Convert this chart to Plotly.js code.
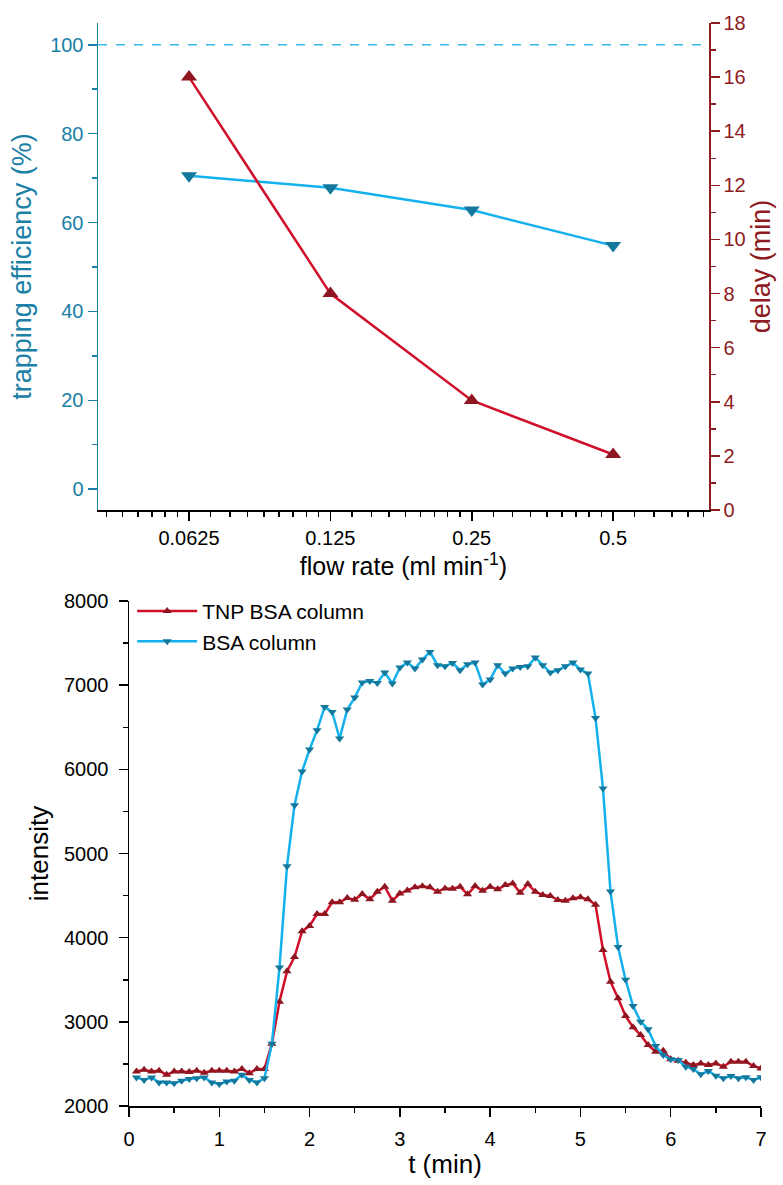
<!DOCTYPE html>
<html>
<head>
<meta charset="utf-8">
<script src="https://cdn.plot.ly/plotly-3.0.1.min.js"></script>
<style>
  html, body { margin: 0; padding: 0; background: #fff; }
  #top { width: 783px; height: 590px; }
  #bottom { width: 783px; height: 595px; }
</style>
</head>
<body>
<div id="top"></div>
<div id="bottom"></div>
<script>
// ---------- Top chart data ----------
const flowRate = [0.0625, 0.125, 0.25, 0.5];
const flowTickText = ['0.0625', '0.125', '0.25', '0.5'];
const trappingEfficiency = [70.5, 67.8, 62.8, 54.8];
const delayMin = [16.0, 8.0, 4.05, 2.05];
const fullTrapping = 100;

// ---------- Bottom chart data ----------
const tMin = [0.083, 0.167, 0.25, 0.333, 0.417, 0.5, 0.583, 0.667, 0.75, 0.833, 0.917, 1,
  1.083, 1.167, 1.25, 1.333, 1.417, 1.5, 1.583, 1.667, 1.75, 1.833, 1.917, 2,
  2.083, 2.167, 2.25, 2.333, 2.417, 2.5, 2.583, 2.667, 2.75, 2.833, 2.917, 3,
  3.083, 3.167, 3.25, 3.333, 3.417, 3.5, 3.583, 3.667, 3.75, 3.833, 3.917, 4,
  4.083, 4.167, 4.25, 4.333, 4.417, 4.5, 4.583, 4.667, 4.75, 4.833, 4.917, 5,
  5.083, 5.167, 5.25, 5.333, 5.417, 5.5, 5.583, 5.667, 5.75, 5.833, 5.917, 6,
  6.083, 6.167, 6.25, 6.333, 6.417, 6.5, 6.583, 6.667, 6.75, 6.833, 6.917, 7];
const tnpBsaColumn = [2410, 2430, 2410, 2420, 2370, 2410, 2410, 2405, 2420, 2395, 2420, 2420,
  2420, 2410, 2440, 2390, 2440, 2440, 2740, 3240, 3600, 3770, 4075, 4140,
  4280, 4280, 4420, 4420, 4470, 4450, 4520, 4455, 4545, 4605, 4440, 4525,
  4560, 4600, 4610, 4598, 4546, 4585, 4582, 4606, 4515, 4613, 4558, 4606,
  4574, 4625, 4645, 4534, 4637, 4546, 4507, 4495, 4447, 4440, 4468, 4480,
  4456, 4392, 3854, 3477, 3280, 3069, 2936, 2843, 2724, 2645, 2657, 2554,
  2538, 2514, 2487, 2506, 2487, 2506, 2467, 2526, 2526, 2526, 2475, 2447];
const bsaColumn = [2340, 2310, 2340, 2280, 2280, 2270, 2300, 2320, 2330, 2340, 2280, 2260,
  2290, 2300, 2370, 2310, 2280, 2330, 2740, 3647, 4850, 5574, 5975, 6235,
  6465, 6742, 6682, 6366, 6710, 6853, 7031, 7050, 7027, 7150, 7019, 7209,
  7268, 7197, 7304, 7395, 7237, 7225, 7264, 7177, 7249, 7268, 7007, 7066,
  7237, 7138, 7197, 7217, 7225, 7328, 7237, 7150, 7177, 7225, 7268, 7185,
  7138, 6611, 5772, 4549, 3888, 3500, 3188, 3002, 2912, 2713, 2606, 2554,
  2546, 2467, 2439, 2376, 2416, 2360, 2330, 2356, 2330, 2341, 2309, 2341];

// ---------- Styles ----------
const FONT = 'Liberation Sans, Arial, Helvetica, sans-serif';
const TEAL = '#1a80a6';
const DARKRED = '#8e1b22';
const LINE_BLUE = '#14b1ec';
const MARK_BLUE = '#13789b';
const LINE_RED = '#d0102a';
const MARK_RED = '#8e1620';

// minor ticks for the log axis: 8 linear subdivisions per octave
const octaves = [0.03125, 0.0625, 0.125, 0.25, 0.5];
const xMin = 0.04, xMax = 0.8;
const minorVals = [];
octaves.forEach(b => { for (let n = 1; n <= 8; n++) { const v = b * (1 + n / 9); if (v > xMin && v < xMax) minorVals.push(v); } });

const topTraces = [
  {
    x: flowRate, y: trappingEfficiency, type: 'scatter', mode: 'lines+markers',
    xaxis: 'x', yaxis: 'y',
    line: { color: LINE_BLUE, width: 2.5 },
    marker: { symbol: 'triangle-down', size: 14, color: MARK_BLUE },
    name: 'trapping efficiency'
  },
  {
    x: flowRate, y: delayMin, type: 'scatter', mode: 'lines+markers',
    xaxis: 'x', yaxis: 'y2',
    line: { color: LINE_RED, width: 2.5 },
    marker: { symbol: 'triangle-up', size: 14, color: MARK_RED },
    name: 'delay'
  }
];

const xLogCommon = {
  type: 'log', range: [Math.log10(xMin), Math.log10(xMax)],
  tickmode: 'array', tickvals: flowRate, ticktext: flowTickText,
  showgrid: false, zeroline: false, showline: true, linecolor: '#000', linewidth: 1.5,
  tickcolor: '#000', tickwidth: 1.5, ticklen: 9
};

const topLayout = {
  width: 783, height: 590,
  margin: { l: 98, r: 74, t: 23, b: 80, autoexpand: false },
  paper_bgcolor: '#fff', plot_bgcolor: '#fff',
  showlegend: false,
  font: { family: FONT, size: 19, color: '#000' },
  xaxis: Object.assign({}, xLogCommon, {
    ticks: 'outside',
    tickfont: { size: 20 },
    minor: { tickmode: 'array', tickvals: minorVals, ticks: 'outside', ticklen: 5, tickwidth: 1.5, tickcolor: '#000', showgrid: false },
    title: { text: 'flow rate (ml min<sup>-1</sup>)', font: { size: 25, color: '#000' }, standoff: 8 }
  }),
  xaxis2: Object.assign({}, xLogCommon, {
    overlaying: 'x', side: 'top', anchor: 'y',
    ticks: 'inside', showticklabels: false,
    minor: { tickmode: 'array', tickvals: minorVals, ticks: 'inside', ticklen: 5, tickwidth: 1.5, tickcolor: '#000', showgrid: false }
  }),
  yaxis: {
    range: [-4.7, 104.9], tick0: 0, dtick: 20,
    ticks: 'outside', ticklen: 9, tickwidth: 1.5, tickcolor: TEAL,
    showline: true, linecolor: TEAL, linewidth: 1.5,
    showgrid: false, zeroline: false,
    tickfont: { color: TEAL, size: 20 },
    minor: { tick0: 0, dtick: 10, ticks: 'outside', ticklen: 5, tickwidth: 1.5, tickcolor: TEAL, showgrid: false },
    title: { text: 'trapping efficiency (%)', font: { size: 27, color: TEAL }, standoff: 10 }
  },
  yaxis2: {
    overlaying: 'y', side: 'right', anchor: 'x',
    range: [0, 18], tick0: 0, dtick: 2,
    ticks: 'outside', ticklen: 9, tickwidth: 1.5, tickcolor: DARKRED,
    showline: true, linecolor: DARKRED, linewidth: 1.5,
    showgrid: false, zeroline: false,
    tickfont: { color: DARKRED, size: 20 },
    minor: { tick0: 0, dtick: 1, ticks: 'outside', ticklen: 5, tickwidth: 1.5, tickcolor: DARKRED, showgrid: false },
    title: { text: 'delay (min)', font: { size: 27, color: DARKRED }, standoff: 6 }
  },
  shapes: [{
    type: 'line', xref: 'paper', x0: 0, x1: 1, yref: 'y', y0: fullTrapping, y1: fullTrapping,
    line: { color: '#3bb8ea', width: 1.5, dash: 'dash' }, layer: 'below'
  }]
};

Plotly.newPlot('top', topTraces, topLayout, { displayModeBar: false, staticPlot: true });

const bottomTraces = [
  {
    x: tMin, y: tnpBsaColumn, type: 'scatter', mode: 'lines+markers',
    name: 'TNP BSA column',
    line: { color: LINE_RED, width: 2.5 },
    marker: { symbol: 'triangle-up', size: 8, color: MARK_RED }
  },
  {
    x: tMin, y: bsaColumn, type: 'scatter', mode: 'lines+markers',
    name: 'BSA column',
    line: { color: LINE_BLUE, width: 2.5 },
    marker: { symbol: 'triangle-down', size: 8, color: MARK_BLUE }
  }
];

const bottomLayout = {
  width: 783, height: 595,
  margin: { l: 129, r: 22, t: 11, b: 79, autoexpand: false },
  paper_bgcolor: '#fff', plot_bgcolor: '#fff',
  font: { family: FONT, size: 20, color: '#000' },
  showlegend: true,
  legend: {
    x: 0.005, y: 1.02, xanchor: 'left', yanchor: 'top',
    bgcolor: 'rgba(0,0,0,0)', font: { size: 21, color: '#000' },
    tracegroupgap: 0, itemwidth: 60
  },
  xaxis: {
    range: [0, 7], tick0: 0, dtick: 1,
    ticks: 'outside', ticklen: 9, tickwidth: 1.5, tickcolor: '#000',
    showline: true, linecolor: '#000', linewidth: 1.5,
    showgrid: false, zeroline: false,
    ticklabelstandoff: 5,
    minor: { tick0: 0, dtick: 0.5, ticks: 'outside', ticklen: 5, tickwidth: 1.5, tickcolor: '#000', showgrid: false },
    title: { text: 't (min)', font: { size: 26 }, standoff: 6 }
  },
  yaxis: {
    range: [2000, 8000], tick0: 2000, dtick: 1000,
    ticks: 'outside', ticklen: 9, tickwidth: 1.5, tickcolor: '#000',
    showline: true, linecolor: '#000', linewidth: 1.5,
    showgrid: false, zeroline: false,
    ticklabelstandoff: 6,
    minor: { tick0: 2000, dtick: 500, ticks: 'outside', ticklen: 5, tickwidth: 1.5, tickcolor: '#000', showgrid: false },
    title: { text: 'intensity', font: { size: 26 }, standoff: 8 }
  }
};

Plotly.newPlot('bottom', bottomTraces, bottomLayout, { displayModeBar: false, staticPlot: true });
</script>
</body>
</html>
